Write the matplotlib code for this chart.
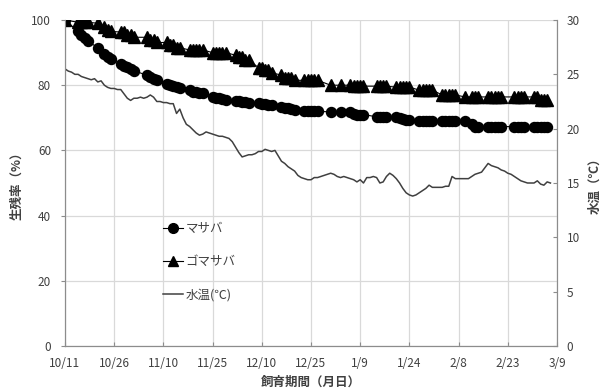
import matplotlib
matplotlib.use('Agg')
import matplotlib.pyplot as plt
from matplotlib.lines import Line2D

plt.rcParams['font.family'] = ['Noto Sans CJK JP', 'DejaVu Sans']

# x axis: days since 10/11
tick_days = [0, 15, 30, 45, 60, 75, 90, 105, 120, 135, 150]
tick_labels = ['10/11', '10/26', '11/10', '11/25', '12/10', '12/25',
               '1/9', '1/24', '2/8', '2/23', '3/9']

# survival measurement days (weekdays, holidays skipped)
meas_days = [0,
             4, 5, 6, 7,
             10, 12, 13, 14,
             17, 18, 19, 20, 21,
             25, 26, 27, 28,
             31, 32, 33, 34, 35,
             38, 39, 40, 41, 42,
             45, 46, 47, 48, 49,
             52, 53, 54, 55, 56,
             59, 60, 61, 62, 63,
             66, 67, 68, 69, 70,
             73, 74, 75, 76, 77,
             81, 84,
             87, 88, 89, 90, 91,
             95, 96, 97, 98,
             101, 102, 103, 104, 105,
             108, 109, 110, 111, 112,
             115, 116, 117, 118, 119,
             122, 124, 125, 126,
             129, 130, 131, 132, 133,
             137, 138, 139, 140,
             143, 144, 145, 146, 147]

masaba = [100.0,
          96.5, 95.5, 94.5, 93.5,
          91.5, 89.5, 88.5, 88.0,
          86.5, 86.0, 85.5, 85.0, 84.5,
          83.0, 82.5, 82.0, 81.5,
          80.5, 80.0, 79.8, 79.5, 79.0,
          78.5, 78.0, 77.8, 77.5, 77.5,
          76.5, 76.2, 76.0, 75.8, 75.5,
          75.0, 75.0, 74.8, 74.8, 74.5,
          74.5, 74.2, 74.2, 74.0, 73.8,
          73.3, 73.0, 73.0, 72.8, 72.5,
          72.2, 72.0, 72.0, 72.0, 72.0,
          71.8, 71.8,
          71.8, 71.2, 71.0, 71.0, 71.0,
          70.3, 70.3, 70.3, 70.3,
          70.3, 70.0, 69.6, 69.3, 69.3,
          68.9, 68.9, 68.9, 68.9, 68.9,
          68.9, 68.9, 68.9, 68.9, 68.9,
          68.9, 68.0, 67.3, 67.3,
          67.3, 67.3, 67.3, 67.3, 67.3,
          67.3, 67.3, 67.3, 67.3,
          67.3, 67.3, 67.3, 67.3, 67.3]

gomasaba = [100.0,
            99.3, 99.3, 99.3, 99.3,
            99.0, 97.8, 97.0, 96.5,
            96.3, 96.3, 95.5, 95.5, 94.7,
            94.7, 93.9, 93.9, 93.1,
            93.1, 92.3, 92.3, 91.5, 91.5,
            90.8, 90.8, 90.8, 90.8, 90.8,
            90.0, 90.0, 90.0, 90.0, 90.0,
            89.2, 88.5, 88.5, 87.7, 87.7,
            85.4, 85.4, 84.6, 84.6, 83.8,
            83.1, 82.3, 82.3, 82.3, 81.5,
            81.5, 81.5, 81.5, 81.5, 81.5,
            80.0, 80.0,
            80.0, 79.7, 79.7, 79.7, 79.7,
            79.7, 79.7, 79.7, 79.7,
            79.4, 79.4, 79.4, 79.4, 79.4,
            78.5, 78.5, 78.5, 78.5, 78.5,
            77.0, 77.0, 77.0, 77.0, 77.0,
            76.4, 76.4, 76.4, 76.4,
            76.4, 76.4, 76.4, 76.4, 76.4,
            76.4, 76.4, 76.4, 76.4,
            76.4, 76.4, 75.5, 75.5, 75.5]

# daily water temperature (days 0..148)
temp = [25.5, 25.3, 25.2, 25.0, 25.0, 24.8, 24.7, 24.6, 24.5, 24.6,
        24.3, 24.4, 24.0, 23.8, 23.7, 23.7, 23.6, 23.6, 23.2, 22.8,
        22.6, 22.8, 22.8, 22.9, 22.8, 22.9, 23.1, 22.9, 22.5, 22.5,
        22.4, 22.4, 22.3, 22.3, 21.4, 21.8, 21.0, 20.4, 20.2, 19.9,
        19.6, 19.4, 19.5, 19.7, 19.6, 19.5, 19.4, 19.3, 19.3, 19.2,
        19.1, 18.8, 18.3, 17.8, 17.4, 17.5, 17.6, 17.6, 17.7, 17.9,
        17.9, 18.1, 18.0, 17.9, 18.0, 17.5, 17.0, 16.8, 16.5, 16.3,
        16.1, 15.7, 15.5, 15.4, 15.3, 15.3, 15.5, 15.5, 15.6, 15.7,
        15.8, 15.9, 15.8, 15.6, 15.5, 15.6, 15.5, 15.4, 15.3, 15.1,
        15.3, 15.0, 15.5, 15.5, 15.6, 15.5, 15.0, 15.1, 15.6, 15.9,
        15.7, 15.4, 15.0, 14.5, 14.1, 13.9, 13.8, 13.9, 14.1, 14.3,
        14.5, 14.8, 14.6, 14.6, 14.6, 14.6, 14.7, 14.7, 15.6, 15.4,
        15.4, 15.4, 15.4, 15.4, 15.6, 15.8, 15.9, 16.0, 16.4, 16.8,
        16.6, 16.5, 16.4, 16.2, 16.1, 15.9, 15.8, 15.6, 15.4, 15.2,
        15.1, 15.0, 15.0, 15.0, 15.2, 14.9, 14.8, 15.1, 15.0]
temp_days = list(range(len(temp)))

fig = plt.figure(figsize=(6.04, 3.92), dpi=100)
ax = fig.add_axes([65/604, 46/392, 492/604, 326/392])
ax2 = ax.twinx()

grid_c = '#d9d9d9'
spine_c = '#8c8c8c'
text_c = '#404040'

ax.set_xlim(0, 150)
ax.set_ylim(0, 100)
ax2.set_ylim(0, 30)
ax.set_xticks(tick_days)
ax.set_xticklabels(tick_labels)
ax.set_yticks([0, 20, 40, 60, 80, 100])
ax2.set_yticks([0, 5, 10, 15, 20, 25, 30])
ax.grid(True, color=grid_c, lw=0.9)
ax.set_axisbelow(True)

for a in (ax, ax2):
    for s in a.spines.values():
        s.set_color(spine_c)
    a.spines['top'].set_visible(False)

ax.tick_params(axis='x', direction='in', length=3, color=spine_c,
               labelsize=8.5, labelcolor=text_c, pad=8)
ax.tick_params(axis='y', direction='out', length=3, color=spine_c,
               labelsize=8.5, labelcolor=text_c, pad=7)
ax2.tick_params(axis='y', direction='in', length=3, color=spine_c,
                labelsize=8.5, labelcolor=text_c, pad=7)

ms_c = 7.2
ms_t = 8.0
ax.plot(meas_days, masaba, color='black', lw=0.8, marker='o',
        markersize=ms_c, zorder=3)
ax.plot(meas_days, gomasaba, color='black', lw=0.8, marker='^',
        markersize=ms_t, zorder=3)
ax2.plot(temp_days, temp, color='#404040', lw=1.1)

ax.set_xlabel('飼育期間（月日）', fontsize=9, fontweight='bold',
              color=text_c, labelpad=4)
ax.set_ylabel('生残率（%）', fontsize=9, fontweight='bold',
              color=text_c, labelpad=6)
ax2.set_ylabel('水温（℃）', fontsize=9, fontweight='bold',
               color=text_c, labelpad=6)

handles = [Line2D([], [], color='black', lw=0.8, marker='o', markersize=7),
           Line2D([], [], color='black', lw=0.8, marker='^', markersize=7.5),
           Line2D([], [], color='#404040', lw=1.1)]
labels = ['マサバ', 'ゴマサバ', '水温(℃)']
leg = ax2.legend(handles, labels, loc='upper left',
                 bbox_to_anchor=(0.19, 0.395), frameon=False,
                 fontsize=9, labelspacing=1.6, handlelength=1.6,
                 handletextpad=0.15, borderaxespad=0)
for t in leg.get_texts():
    t.set_color(text_c)

fig.savefig('out.png', dpi=100)
